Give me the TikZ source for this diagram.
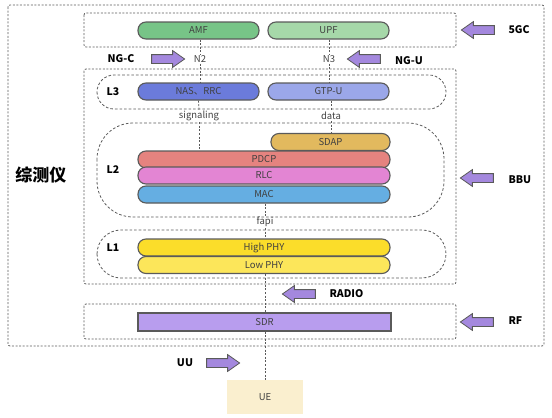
\documentclass[tikz,border=0pt]{standalone}
\usepackage{fontspec}
\setmainfont{Noto Sans CJK SC}
\usetikzlibrary{shapes.arrows}

\definecolor{linegray}{HTML}{5A5A5A}
\definecolor{txtgray}{HTML}{404040}
\definecolor{amfgreen}{HTML}{77C487}
\definecolor{upfgreen}{HTML}{A6D8A9}
\definecolor{nasblue}{HTML}{6B7BDB}
\definecolor{gtpblue}{HTML}{9BA7E9}
\definecolor{sdapgold}{HTML}{E2B95E}
\definecolor{pdcpred}{HTML}{E5837F}
\definecolor{rlcpink}{HTML}{E385D3}
\definecolor{macblue}{HTML}{65AEE2}
\definecolor{hiyellow}{HTML}{FBDD2A}
\definecolor{loyellow}{HTML}{FCE65A}
\definecolor{sdrpurple}{HTML}{B89DEE}
\definecolor{arrpurple}{HTML}{A488DE}
\definecolor{uecream}{HTML}{FAEFCF}

\begin{document}
\begin{tikzpicture}[x=1pt,y=-1pt]

% --------------------
% Parameters (tweak these)
% --------------------
\def\pillH{17pt}   % layer height
\def\fullW{252pt}  % full-width layer
\def\halfW{121pt}  % half-width layer
\def\grpL{84}      % left edge of group boxes
\def\grpR{456}     % right edge of group boxes

\tikzset{
  layer/.style={draw=linegray, line width=1.1pt, rounded corners=8pt,
    minimum height=\pillH, inner sep=0pt, text=txtgray, font=\fontsize{9.5}{11}\selectfont},
  grp/.style={draw=linegray, line width=0.8pt, dash pattern=on 2pt off 1.6pt, rounded corners=2pt},
  lay/.style={draw=linegray, line width=0.8pt, dash pattern=on 2.6pt off 2pt},
  link/.style={draw=linegray, line width=0.8pt, dash pattern=on 2pt off 1.6pt},
  lbl/.style={font=\bfseries\fontsize{10.5}{12}\selectfont},
  itf/.style={text=txtgray, font=\fontsize{9.5}{11}\selectfont, inner sep=1pt},
  barrow/.style={single arrow, draw=linegray, fill=arrpurple, line width=0.8pt,
    minimum height=33pt, inner xsep=0pt, inner ysep=4pt,
    single arrow head extend=4pt, single arrow tip angle=70},
  larrow/.style={barrow, shape border rotate=180}
}

\useasboundingbox (0,0) rectangle (552,418);

% --------------------
% Group boxes
% --------------------
\draw[grp] (8,5) rectangle (544,346);
\draw[grp] (\grpL,13) rectangle (\grpR,47);
\draw[grp] (\grpL,69) rectangle (\grpR,284);
\draw[grp] (\grpL,304) rectangle (\grpR,339);

\draw[lay, rounded corners=17pt] (97,75) rectangle (446,109);
\draw[lay, rounded corners=36pt] (97,123) rectangle (444,217);
\draw[lay, rounded corners=24pt] (97,230) rectangle (446,278);

\node[font=\bfseries\fontsize{17}{19}\selectfont] (tester) at (41,175) {综测仪};
\node[lbl] (l3) at (113,92) {L3};
\node[lbl] (l2) at (113,170) {L2};
\node[lbl] (l1) at (113,248) {L1};

% --------------------
% Layers
% --------------------
\node[layer, fill=amfgreen, minimum width=\halfW] (amf) at (198.5,30.5) {AMF};
\node[layer, fill=upfgreen, minimum width=\halfW] (upf) at (328.5,30.5) {UPF};

\node[layer, fill=nasblue, minimum width=\halfW] (nas) at (198.5,91.5) {NAS、RRC};
\node[layer, fill=gtpblue, minimum width=\halfW] (gtp) at (328.5,91.5) {GTP-U};

\node[layer, fill=sdapgold, minimum width=119pt] (sdap) at (330.5,142) {SDAP};
\node[layer, fill=pdcpred, minimum width=\fullW] (pdcp) at (264,159.5) {PDCP};
\node[layer, fill=rlcpink, minimum width=\fullW] (rlc) at (264,175.5) {RLC};
\node[layer, fill=macblue, minimum width=\fullW] (mac) at (264,194.5) {MAC};

\node[layer, fill=hiyellow, minimum width=\fullW] (hiphy) at (264,247.5) {High PHY};
\node[layer, fill=loyellow, minimum width=\fullW] (lophy) at (264,265) {Low PHY};

\node[layer, fill=sdrpurple, rounded corners=0pt, minimum height=18pt, minimum width=253pt] (sdr) at (264.5,322) {SDR};

\node[fill=uecream, minimum width=76pt, minimum height=34pt, inner sep=0pt,
  text=txtgray, font=\fontsize{9.5}{11}\selectfont] (ue) at (265,397) {UE};

% --------------------
% Interface labels
% --------------------
\node[itf] (n2) at (200,59) {N2};
\node[itf] (n3) at (329,59) {N3};
\node[itf] (sig) at (199,116) {signaling};
\node[itf] (data) at (331,116) {data};
\node[itf] (fapi) at (265,222) {fapi};

% --------------------
% Block arrows and their names
% --------------------
\node[larrow] (a5gc) at (481,30) {};
\node[lbl, anchor=west] (t5gc) at (505,30) {5GC};
\node[barrow] (angc) at (165,59) {};
\node[lbl] (tngc) at (121,59) {NG-C};
\node[larrow] (angu) at (367,59) {};
\node[lbl] (tngu) at (409,61) {NG-U};
\node[larrow] (abbu) at (480,178) {};
\node[lbl, anchor=west] (tbbu) at (505,180) {BBU};
\node[larrow] (aradio) at (302,294) {};
\node[lbl, anchor=west] (tradio) at (326,294) {RADIO};
\node[larrow] (arf) at (480,322) {};
\node[lbl, anchor=west] (trf) at (505,321) {RF};
\node[barrow] (auu) at (220,363) {};
\node[lbl] (tuu) at (185,363) {UU};

% --------------------
% Dashed links between layers
% --------------------
\draw[link] (amf.south -| n2) -- (n2.north);
\draw[link] (n2.south) -- (nas.north -| n2);
\draw[link] (nas.south) -- (sig.north);
\draw[link] (sig.south) -- (pdcp.north -| sig);
\draw[link] (upf.south -| n3) -- (n3.north);
\draw[link] (n3.south) -- (gtp.north -| n3);
\draw[link] (gtp.south -| data) -- (data.north);
\draw[link] (data.south) -- (sdap.north -| data);
\draw[link] (mac.south -| fapi) -- (fapi.north);
\draw[link] (fapi.south) -- (hiphy.north -| fapi);
\draw[link] (lophy.south -| fapi) -- (sdr.north -| fapi);
\draw[link] (sdr.south -| ue) -- (ue.north);

\end{tikzpicture}
\end{document}
